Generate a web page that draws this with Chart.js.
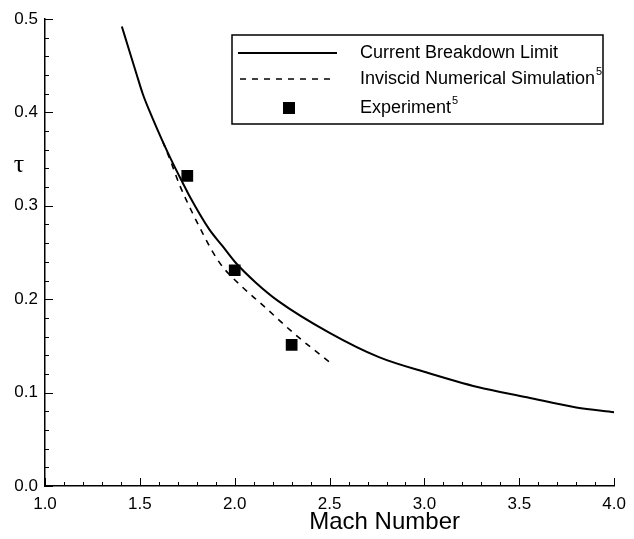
<!DOCTYPE html>
<html>
<head>
<meta charset="utf-8">
<script src="https://cdn.jsdelivr.net/npm/chart.js@4"></script>
<style>
  html, body { margin: 0; padding: 0; background: #fff; }
  #wrap { width: 634px; height: 539px; }
</style>
</head>
<body>
<div id="wrap"><canvas id="chart" width="634" height="539"></canvas></div>
<script>
'use strict';

/// data
const machLimit = [1.405, 1.446, 1.481, 1.515, 1.56, 1.62, 1.673, 1.725, 1.76, 1.865, 1.935, 2.005, 2.11, 2.23, 2.5, 2.76, 3.02, 3.28, 3.54, 3.8, 4.0];
const tauLimit = [0.492, 0.465, 0.442, 0.420, 0.397, 0.369, 0.346, 0.325, 0.311, 0.275, 0.257, 0.239, 0.218, 0.198, 0.164, 0.138, 0.121, 0.106, 0.095, 0.084, 0.079];

const machInviscid = [1.62, 1.66, 1.71, 1.778, 1.83, 1.883, 1.935, 2.04, 2.14, 2.32, 2.51];
const tauInviscid = [0.369, 0.349, 0.322, 0.292, 0.271, 0.251, 0.235, 0.213, 0.195, 0.162, 0.131];

const machExp = [1.75, 2.0, 2.3];
const tauExp = [0.332, 0.231, 0.151];

const legendLabels = ['Current Breakdown Limit', 'Inviscid Numerical Simulation', 'Experiment'];
const xTitle = 'Mach Number';
const yTitle = '\u03C4';

const FONT = '"Liberation Sans", Arial, Helvetica, sans-serif';

const toPoints = (xs, ys) => xs.map((x, i) => ({ x: x, y: ys[i] }));

/// inward tick marks, title text and boxed legend
const decorPlugin = {
  id: 'decor',
  afterDraw(chart) {
    const ctx = chart.ctx;
    const xs = chart.scales.x;
    const ys = chart.scales.y;
    const area = chart.chartArea;
    ctx.save();
    ctx.strokeStyle = '#000';
    ctx.lineWidth = 1;

    // x ticks (pointing up into the plot)
    for (let i = 0; i <= 30; i++) {
      const v = 1 + i * 0.1;
      const px = Math.round(xs.getPixelForValue(v)) + 0.5;
      const len = i % 5 === 0 ? 8 : 4;
      ctx.beginPath();
      ctx.moveTo(px, area.bottom);
      ctx.lineTo(px, area.bottom - len);
      ctx.stroke();
    }
    // y ticks (pointing right into the plot)
    for (let i = 0; i <= 25; i++) {
      const v = i * 0.02;
      const py = Math.round(ys.getPixelForValue(v)) + 0.5;
      const len = i % 5 === 0 ? 8 : 4;
      ctx.beginPath();
      ctx.moveTo(area.left, py);
      ctx.lineTo(area.left + len, py);
      ctx.stroke();
    }

    // axis titles
    ctx.fillStyle = '#000';
    ctx.font = '24px ' + FONT;
    ctx.textAlign = 'center';
    ctx.textBaseline = 'alphabetic';
    ctx.fillText(xTitle, xs.getPixelForValue(2.79), 529);
    ctx.font = '26px "Liberation Serif", "DejaVu Serif", serif';
    ctx.fillText(yTitle, 19, ys.getPixelForValue(0.344) + 7);

    // legend box
    const bx = 232, by = 35, bw = 371, bh = 89;
    ctx.fillStyle = '#fff';
    ctx.fillRect(bx, by, bw, bh);
    ctx.lineWidth = 1.5;
    ctx.strokeRect(bx, by, bw, bh);

    const rows = [53, 79, 108];
    // solid sample
    ctx.lineWidth = 2;
    ctx.beginPath();
    ctx.moveTo(238, rows[0]);
    ctx.lineTo(337, rows[0]);
    ctx.stroke();
    // dashed sample
    ctx.lineWidth = 1.5;
    ctx.setLineDash([6, 6]);
    ctx.beginPath();
    ctx.moveTo(240, rows[1]);
    ctx.lineTo(332, rows[1]);
    ctx.stroke();
    ctx.setLineDash([]);
    // square sample
    ctx.fillStyle = '#000';
    ctx.fillRect(283, rows[2] - 6, 12, 12);

    ctx.textAlign = 'left';
    ctx.textBaseline = 'middle';
    const tx = 360;
    legendLabels.forEach((t, i) => {
      ctx.font = '18px ' + FONT;
      ctx.fillText(t, tx, rows[i]);
      if (i > 0) {
        const w = ctx.measureText(t).width;
        ctx.font = '11px ' + FONT;
        ctx.fillText('5', tx + w + 1, rows[i] - 7);
      }
    });
    ctx.restore();
  },
};

const config = {
  type: 'scatter',
  data: {
    datasets: [
      {
        label: legendLabels[0],
        data: toPoints(machLimit, tauLimit),
        showLine: true,
        borderColor: '#000',
        borderWidth: 2,
        pointRadius: 0,
        cubicInterpolationMode: 'monotone',
      },
      {
        label: legendLabels[1],
        data: toPoints(machInviscid, tauInviscid),
        showLine: true,
        borderColor: '#000',
        borderWidth: 1.6,
        borderDash: [6, 6],
        pointRadius: 0,
        cubicInterpolationMode: 'monotone',
      },
      {
        label: legendLabels[2],
        data: toPoints(machExp, tauExp),
        showLine: false,
        pointStyle: 'rect',
        pointRadius: 8.3,
        backgroundColor: '#000',
        borderColor: '#000',
        borderWidth: 0,
      },
    ],
  },
  options: {
    responsive: false,
    animation: false,
    events: [],
    layout: { padding: { top: 19, right: 17, left: 0, bottom: 0 } },
    plugins: {
      legend: { display: false },
      tooltip: { enabled: false },
    },
    scales: {
      x: {
        type: 'linear',
        min: 1,
        max: 4,
        afterFit: (s) => { s.height = 53; },
        grid: { drawOnChartArea: false, drawTicks: false },
        border: { display: true, color: '#000', width: 1.5 },
        ticks: {
          stepSize: 0.5,
          padding: 8,
          color: '#000',
          font: { family: FONT, size: 17 },
          callback: (v) => v.toFixed(1),
        },
      },
      y: {
        type: 'linear',
        min: 0,
        max: 0.5,
        afterFit: (s) => { s.width = 45; },
        grid: { drawOnChartArea: false, drawTicks: false },
        border: { display: true, color: '#000', width: 1.5 },
        ticks: {
          stepSize: 0.1,
          padding: 7,
          color: '#000',
          font: { family: FONT, size: 17 },
          callback: (v) => v.toFixed(1),
        },
      },
    },
  },
  plugins: [decorPlugin],
};

const chart = new Chart(document.getElementById('chart'), config);
</script>
</body>
</html>
